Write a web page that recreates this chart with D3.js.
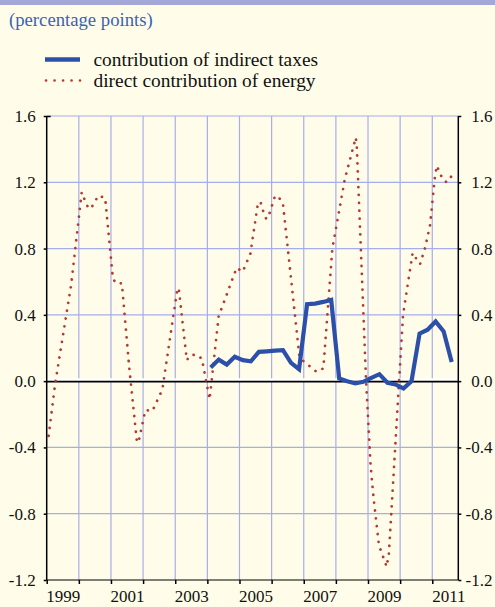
<!DOCTYPE html>
<html>
<head>
<meta charset="utf-8">
<script src="https://cdn.jsdelivr.net/npm/d3@7"></script>
</head>
<body style="margin:0;padding:0;background:#fffde9">
<svg id="chart" width="495" height="607" style="display:block"></svg>
<script>
// ---- data ----
const title = "(percentage points)";
const seriesNames = ["contribution of indirect taxes", "direct contribution of energy"];

// direct contribution of energy: vertices (decimal year, percentage points)
const energyDates = [
  1999.06, 1999.26, 1999.76, 2000.09, 2000.17, 2000.28, 2000.37, 2000.61, 2000.82,
  2001.06, 2001.16, 2001.34, 2001.56, 2001.81, 2001.86, 2002.07, 2002.29, 2002.60,
  2003.07, 2003.11, 2003.36, 2003.48, 2003.67, 2003.83, 2004.07, 2004.35, 2004.91,
  2005.10, 2005.34, 2005.58, 2005.66, 2005.73, 2005.83, 2005.89, 2006.11, 2006.26,
  2006.36, 2006.87, 2007.40, 2007.61, 2007.89, 2008.28, 2008.62, 2008.65, 2008.94,
  2009.08, 2009.17, 2009.34, 2009.58, 2009.65, 2010.09, 2010.39, 2010.52, 2010.62,
  2010.77, 2010.93, 2011.08, 2011.14, 2011.23, 2011.33, 2011.45, 2011.61
];
const energyValues = [
  -0.33, -0.02, 0.58, 1.14, 1.10, 1.05, 1.04, 1.12, 1.105,
  0.62, 0.59, 0.59, 0.10, -0.37, -0.366, -0.175, -0.18, -0.05,
  0.56, 0.56, 0.127, 0.157, 0.16, 0.135, -0.11, 0.39, 0.684,
  0.66, 0.77, 1.08, 1.077, 1.03, 0.98, 0.985, 1.12, 1.10,
  1.06, 0.14, 0.056, 0.077, 0.80, 1.22, 1.47, 1.42, 0.0,
  -0.507, -0.70, -0.99, -1.12, -1.04, 0.40, 0.774, 0.734, 0.706,
  0.80, 0.94, 1.23, 1.30, 1.26, 1.216, 1.20, 1.24
];

// contribution of indirect taxes: quarterly
const taxQuarters = [
  "2004Q1","2004Q2","2004Q3","2004Q4","2005Q1","2005Q2","2005Q3","2005Q4",
  "2006Q1","2006Q2","2006Q3","2006Q4","2007Q1","2007Q2","2007Q3","2007Q4",
  "2008Q1","2008Q2","2008Q3","2008Q4","2009Q1","2009Q2","2009Q3","2009Q4",
  "2010Q1","2010Q2","2010Q3","2010Q4","2011Q1","2011Q2","2011Q3"
];
const taxValues = [
  0.083, 0.13, 0.10, 0.147, 0.127, 0.12, 0.177, 0.18,
  0.184, 0.187, 0.11, 0.072, 0.464, 0.468, 0.478, 0.49,
  0.016, 0.0, -0.014, -0.004, 0.02, 0.042, -0.01, -0.02,
  -0.044, 0.0, 0.287, 0.31, 0.36, 0.30, 0.116
];

const yTicks = [-1.2, -0.8, -0.4, 0.0, 0.4, 0.8, 1.2, 1.6];
const yearTicks = [1999, 2000, 2001, 2002, 2003, 2004, 2005, 2006, 2007, 2008, 2009, 2010, 2011];
const yearLabels = [1999, 2001, 2003, 2005, 2007, 2009, 2011];
const xDomain = [1999, 2011.81];
const yDomain = [-1.2, 1.6];

// ---- layout / style ----
const L = 46.7, R = 458.3, T = 116, B = 580;
const gridColor = "#a6adec";
const blue = "#2c50aa";
const red = "#b43a30";
const FONT = '"Liberation Serif"';
const quarterOffset = 0.104;

const svg = d3.select("#chart");
const x = d3.scaleLinear().domain(xDomain).range([L, R]);
const y = d3.scaleLinear().domain(yDomain).range([B, T]);

// background + top band
svg.append("rect").attr("width", 495).attr("height", 607).attr("fill", "#fffde9");
svg.append("rect").attr("width", 495).attr("height", 5).attr("fill", "#a4a8d8");

// title
svg.append("text").attr("x", 9).attr("y", 26).attr("font-size", 18.7)
  .style("font-family", FONT).attr("fill", "#3a62b6").text(title);

// legend
const lg = svg.append("g");
lg.append("line").attr("x1", 45).attr("x2", 80).attr("y1", 59.5).attr("y2", 59.5)
  .attr("stroke", blue).attr("stroke-width", 4.5);
lg.append("text").attr("x", 93.5).attr("y", 66).attr("font-size", 19.4).style("font-family", FONT)
  .attr("fill", "#111").text(seriesNames[0]);
lg.append("line").attr("x1", 46).attr("x2", 80).attr("y1", 80.5).attr("y2", 80.5)
  .attr("stroke", red).attr("stroke-width", 2.6).attr("stroke-linecap", "round")
  .attr("stroke-dasharray", "0.1,8.4");
lg.append("text").attr("x", 93.5).attr("y", 87).attr("font-size", 19.4).style("font-family", FONT)
  .attr("fill", "#111").text(seriesNames[1]);

// grid
const grid = svg.append("g");
grid.selectAll("line.h").data(yTicks.filter(v => v !== 0 && v !== -1.2)).enter()
  .append("line").attr("class", "h")
  .attr("x1", L).attr("x2", R).attr("y1", d => y(d)).attr("y2", d => y(d))
  .attr("stroke", gridColor).attr("stroke-width", 1.2);
grid.selectAll("line.v").data(yearTicks.slice(1)).enter()
  .append("line").attr("class", "v")
  .attr("x1", d => x(d)).attr("x2", d => x(d)).attr("y1", T).attr("y2", B)
  .attr("stroke", gridColor).attr("stroke-width", 1.2);

// zero line with white halo
svg.append("line").attr("x1", L).attr("x2", R).attr("y1", y(0) - 1.5).attr("y2", y(0) - 1.5)
  .attr("stroke", "#ffffff").attr("stroke-width", 3);
svg.append("line").attr("x1", L).attr("x2", R).attr("y1", y(0) + 0.5).attr("y2", y(0) + 0.5)
  .attr("stroke", "#000").attr("stroke-width", 1.8);

// series
const energy = energyDates.map((d, i) => [d, energyValues[i]]);
const taxes = taxQuarters.map((q, i) => {
  const yr = +q.slice(0, 4), qq = +q.slice(5);
  return [yr + (qq - 1) / 4 + quarterOffset, taxValues[i]];
});
const line = d3.line().x(d => x(d[0])).y(d => y(d[1]));

svg.append("path").attr("d", line(energy)).attr("fill", "none")
  .attr("stroke", red).attr("stroke-width", 2.7).attr("stroke-linecap", "round")
  .attr("stroke-dasharray", "0.1,7.8");
svg.append("path").attr("d", line(taxes)).attr("fill", "none")
  .attr("stroke", blue).attr("stroke-width", 4.2);

// axes
function styleAxis(g) {
  g.select(".domain").remove();
  g.attr("font-family", null).attr("font-size", 17);
  g.selectAll("line").attr("stroke", "#000").attr("stroke-width", 1.5);
  g.selectAll("text").attr("fill", "#111").attr("font-size", 17)
    .style("font-family", FONT);
}
const fmt = d => d3.format(".1f")(d).replace("\u2212", "-");

const leftAx = svg.append("g").attr("transform", `translate(${L},0)`)
  .call(d3.axisLeft(y).tickValues(yTicks).tickFormat(fmt).tickSize(3).tickPadding(8));
styleAxis(leftAx);
const rightAx = svg.append("g").attr("transform", `translate(${R},0)`)
  .call(d3.axisRight(y).tickValues(yTicks).tickFormat(fmt).tickSize(3).tickPadding(10));
styleAxis(rightAx);
rightAx.selectAll("text").attr("text-anchor", "end").attr("x", 34.2);

// axis lines
svg.append("line").attr("x1", L).attr("x2", L).attr("y1", T).attr("y2", B)
  .attr("stroke", "#000").attr("stroke-width", 1.5);
svg.append("line").attr("x1", R).attr("x2", R).attr("y1", T).attr("y2", B)
  .attr("stroke", "#000").attr("stroke-width", 1.5);
svg.append("line").attr("x1", L).attr("x2", R).attr("y1", B).attr("y2", B)
  .attr("stroke", "#000").attr("stroke-width", 1.2);
svg.append("line").attr("x1", L).attr("x2", L + 4).attr("y1", T + 0.5).attr("y2", T + 0.5)
  .attr("stroke", "#000").attr("stroke-width", 1.5);

const bottomTicks = svg.append("g").attr("transform", `translate(0,${B})`)
  .call(d3.axisBottom(x).tickValues(yearTicks).tickFormat("").tickSize(4));
styleAxis(bottomTicks);
const bottomLabels = svg.append("g").attr("transform", `translate(0,${B})`)
  .call(d3.axisBottom(x).tickValues(yearLabels.map(v => v + 0.5)).tickFormat(d => String(Math.floor(d))).tickSize(0).tickPadding(10));
styleAxis(bottomLabels);

svg.selectAll("text").each(function () { this.getComputedTextLength(); });
</script>
</body>
</html>
